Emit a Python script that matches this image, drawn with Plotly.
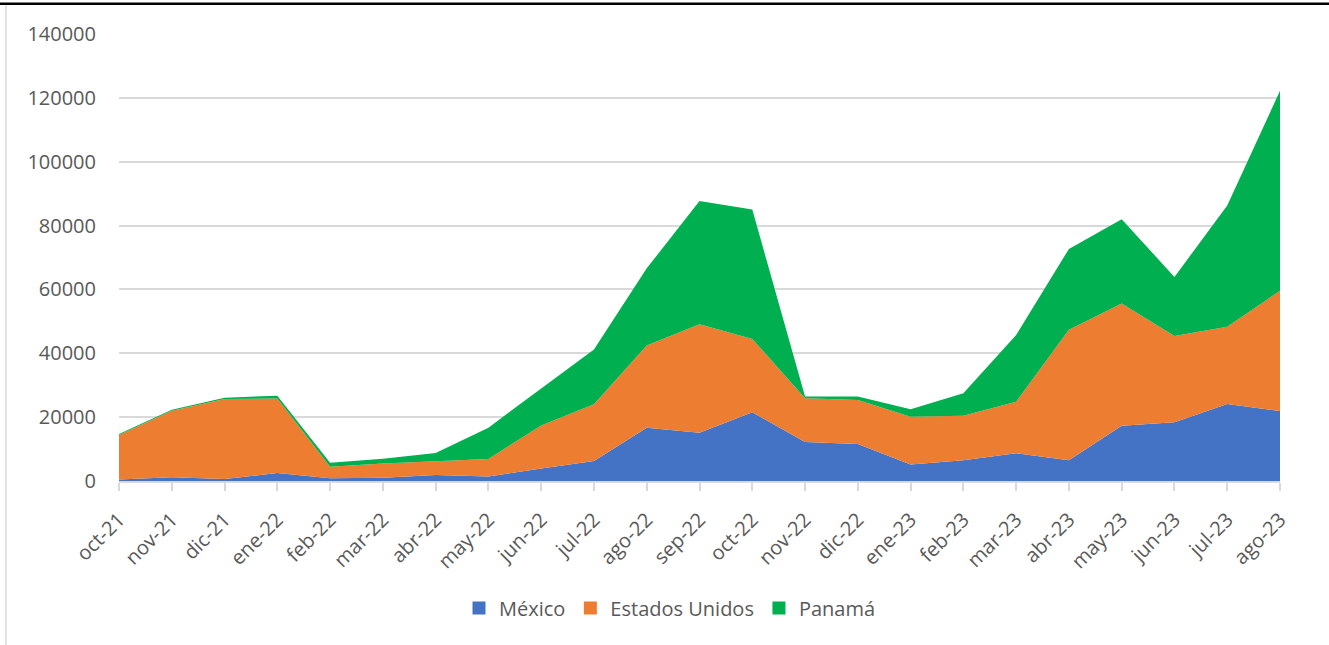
import plotly.graph_objects as go

# Monthly series, Oct-2021 to Aug-2023
meses = ["oct-21", "nov-21", "dic-21", "ene-22", "feb-22", "mar-22", "abr-22",
         "may-22", "jun-22", "jul-22", "ago-22", "sep-22", "oct-22", "nov-22",
         "dic-22", "ene-23", "feb-23", "mar-23", "abr-23", "may-23", "jun-23",
         "jul-23", "ago-23"]

mexico = [500, 1200, 600, 2500, 900, 1000, 1900, 1400, 3900, 6300, 16700, 15100,
          21500, 12200, 11600, 5200, 6500, 8700, 6500, 17300, 18400, 24100, 21900]

estados_unidos = [13900, 20800, 25100, 23300, 3600, 4500, 4300, 5500, 13500, 17700,
                  25700, 34000, 23000, 13700, 13800, 14900, 13900, 16100, 40900,
                  38300, 27000, 24200, 37700]

panama = [300, 300, 400, 900, 1200, 1500, 2600, 9800, 11600, 17200, 24200, 38600,
          40500, 600, 1100, 2400, 7100, 20900, 25300, 26400, 18500, 38000, 62600]

y_ticks = [0, 20000, 40000, 60000, 80000, 100000, 120000, 140000]

series = [
    ("México", mexico, "#4472C4"),
    ("Estados Unidos", estados_unidos, "#ED7D31"),
    ("Panamá", panama, "#00B050"),
]

FONT = "Open Sans"
TEXT_COLOR = "#595959"
GRID = "#D9D9D9"

fig = go.Figure()

# stacked areas
for name, values, color in series:
    fig.add_trace(go.Scatter(
        x=meses, y=values, name=name, stackgroup="one", mode="lines",
        line=dict(width=0, color=color), fillcolor=color,
        showlegend=False, hoverinfo="x+y+name",
    ))

# square legend keys
for name, values, color in series:
    fig.add_trace(go.Scatter(
        x=[None], y=[None], name=name, mode="markers",
        marker=dict(symbol="square", size=13, color=color),
        showlegend=True,
    ))

# plot area spans x 119..1280, y 34..481 in a 1329x645 page
L, R, T, B = 119, 49, 34, 164
W, H = 1329, 645
pw, ph = W - L - R, H - T - B


def px_x(px):
    return (px - L) / pw


def px_y(py):
    return (H - B - py) / ph


shapes = [
    # chart border on the left
    dict(type="line", xref="paper", yref="paper",
         x0=px_x(6), x1=px_x(6), y0=px_y(5), y1=px_y(H + 5),
         line=dict(color=GRID, width=1.5)),
    # dark rule above the chart
    dict(type="line", xref="paper", yref="paper",
         x0=px_x(-5), x1=px_x(W + 5), y0=px_y(3.8), y1=px_y(3.8),
         line=dict(color="#000000", width=2.5)),
]

fig.update_layout(
    width=W, height=H,
    margin=dict(l=L, r=R, t=T, b=B, pad=0),
    paper_bgcolor="white", plot_bgcolor="white",
    font=dict(family=FONT, size=20, color=TEXT_COLOR),
    showlegend=True,
    legend=dict(
        orientation="h", traceorder="normal",
        x=px_x(670), xanchor="center",
        y=px_y(608), yanchor="middle",
        font=dict(family=FONT, size=20, color=TEXT_COLOR),
        itemclick=False, itemdoubleclick=False,
    ),
    xaxis=dict(
        type="category", range=[0, len(meses) - 1],
        tickangle=-45, showgrid=False,
        showline=True, linecolor=GRID, linewidth=2,
        ticks="outside", ticklen=8, tickcolor=GRID, tickwidth=2,
        tickfont=dict(family=FONT, size=20, color=TEXT_COLOR),
        ticklabelstandoff=9, fixedrange=True,
    ),
    yaxis=dict(
        range=[0, 140000], tickvals=y_ticks,
        ticktext=[str(v) for v in y_ticks],
        showgrid=True, gridcolor=GRID, gridwidth=2,
        zeroline=False, showline=False, ticks="",
        tickfont=dict(family=FONT, size=20, color=TEXT_COLOR),
        ticklabelstandoff=22, fixedrange=True,
    ),
    shapes=shapes,
)

fig.write_html("out.html")
